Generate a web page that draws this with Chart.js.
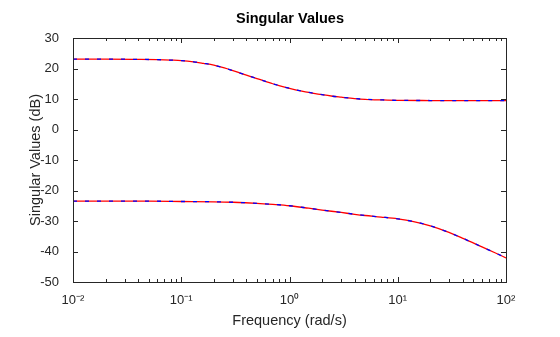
<!DOCTYPE html>
<html>
<head>
<meta charset="utf-8">
<script src="https://cdn.jsdelivr.net/npm/chart.js@4.4.1/dist/chart.umd.min.js"></script>
<style>
    html, body { margin: 0; padding: 0; background: #fff; }
    #wrap { width: 560px; height: 337px; }
</style>
</head>
<body>
<div id="wrap"><canvas id="sigma"></canvas></div>
<script>
// valeurs (rad/s, dB)
const freqUpper = [0.01, 0.02, 0.04, 0.06, 0.08, 0.1, 0.13, 0.16, 0.2, 0.25, 0.3, 0.35, 0.4, 0.5, 0.6, 0.7, 0.8, 1, 1.3, 1.6, 2, 2.5, 3, 4, 5, 7, 10, 20, 50, 100];
const svUpper = [23.1, 23.1, 23.0, 22.9, 22.75, 22.6, 22.2, 21.7, 21.1, 20.2, 19.3, 18.5, 17.8, 16.7, 15.8, 15.0, 14.4, 13.5, 12.6, 12.0, 11.4, 10.9, 10.6, 10.15, 9.9, 9.7, 9.55, 9.5, 9.45, 9.45];

const freqLower = [0.01, 0.05, 0.1, 0.2, 0.3, 0.5, 0.7, 1, 1.5, 2, 3, 4, 5, 7, 10, 14, 20, 28, 40, 60, 80, 100];
const svLower = [-23.5, -23.5, -23.6, -23.7, -23.85, -24.2, -24.55, -25.0, -25.8, -26.4, -27.2, -27.8, -28.2, -28.7, -29.3, -30.2, -31.6, -33.4, -35.7, -38.5, -40.5, -42.1];

const xTickValues = [
    0.01, 0.02, 0.03, 0.04, 0.05, 0.06, 0.07, 0.08, 0.09,
    0.1, 0.2, 0.3, 0.4, 0.5, 0.6, 0.7, 0.8, 0.9,
    1, 2, 3, 4, 5, 6, 7, 8, 9,
    10, 20, 30, 40, 50, 60, 70, 80, 90,
    100,
];
const yTickValues = [-50, -40, -30, -20, -10, 0, 10, 20, 30];

const axisColor = '#262626';
const sup = { '-': '\u207B', '0': '\u2070', '1': '\u00B9', '2': '\u00B2', '3': '\u00B3' };

function isDecade(v) {
    const l = Math.log10(v);
    return Math.abs(l - Math.round(l)) < 1e-6;
}

function decadeLabel(v) {
    const e = String(Math.round(Math.log10(v)));
    return '10' + e.split('').map(function (c) { return sup[c]; }).join('');
}

function pts(xs, ys) {
    return xs.map(function (x, i) { return { x: x, y: ys[i] }; });
}

// cadre complet + graduations vers l'intérieur (style MATLAB)
const boxAxes = {
    id: 'boxAxes',
    afterDraw(chart) {
        const { ctx, chartArea: a, scales } = chart;
        const x = scales.x;
        const y = scales.y;
        ctx.save();
        ctx.strokeStyle = axisColor;
        ctx.lineWidth = 1;
        ctx.beginPath();
        x.ticks.forEach(function (t) {
            const px = Math.round(x.getPixelForValue(t.value)) + 0.5;
            const len = isDecade(t.value) ? 5 : 3;
            ctx.moveTo(px, a.bottom);
            ctx.lineTo(px, a.bottom - len);
            ctx.moveTo(px, a.top);
            ctx.lineTo(px, a.top + len);
        });
        y.ticks.forEach(function (t) {
            const py = Math.round(y.getPixelForValue(t.value)) + 0.5;
            ctx.moveTo(a.left, py);
            ctx.lineTo(a.left + 5, py);
            ctx.moveTo(a.right, py);
            ctx.lineTo(a.right - 5, py);
        });
        ctx.stroke();
        ctx.strokeRect(Math.round(a.left) + 0.5, Math.round(a.top) + 0.5,
            Math.round(a.right - a.left), Math.round(a.bottom - a.top));
        ctx.restore();
    },
};

Chart.defaults.font.family = "'Liberation Sans', Arial, sans-serif";
Chart.defaults.color = axisColor;

const lineCommon = {
    borderWidth: 1.3,
    pointRadius: 0,
    cubicInterpolationMode: 'monotone',
    fill: false,
};

new Chart(document.getElementById('sigma'), {
    type: 'line',
    data: {
        datasets: [
            { ...lineCommon, label: 'sv1 b', data: pts(freqUpper, svUpper), borderColor: '#0000ff', borderDash: [4, 8] },
            { ...lineCommon, label: 'sv2 b', data: pts(freqLower, svLower), borderColor: '#0000ff', borderDash: [4, 8] },
            { ...lineCommon, label: 'sv1', data: pts(freqUpper, svUpper), borderColor: '#ff0000' },
            { ...lineCommon, label: 'sv2', data: pts(freqLower, svLower), borderColor: '#ff0000' },
        ],
    },
    options: {
        responsive: true,
        maintainAspectRatio: false,
        animation: false,
        devicePixelRatio: 1,
        layout: { padding: { left: 20, right: 0, top: 0, bottom: 0 } },
        plugins: {
            legend: { display: false },
            tooltip: { enabled: false },
            title: {
                display: true,
                text: 'Singular Values',
                color: '#000',
                font: { size: 14.5, weight: 'bold' },
                padding: { top: 10, bottom: 10.6 },
            },
        },
        scales: {
            x: {
                type: 'logarithmic',
                min: 0.01,
                max: 100,
                afterBuildTicks(s) {
                    s.ticks = xTickValues.map(function (v) { return { value: v }; });
                },
                afterFit(s) { s.height = 55; },
                grid: { display: false },
                border: { display: false },
                ticks: {
                    autoSkip: false,
                    maxRotation: 0,
                    padding: 3,
                    font: { size: 13 },
                    callback(v) { return isDecade(v) ? decadeLabel(v) : ''; },
                },
                title: {
                    display: true,
                    text: 'Frequency (rad/s)',
                    font: { size: 14.5 },
                    padding: { top: 0, bottom: 7 },
                },
            },
            y: {
                type: 'linear',
                min: -50,
                max: 30,
                afterBuildTicks(s) {
                    s.ticks = yTickValues.map(function (v) { return { value: v }; });
                },
                afterFit(s) { s.width = 53; },
                grid: { display: false },
                border: { display: false },
                ticks: { padding: 6, font: { size: 13 } },
                title: {
                    display: true,
                    text: 'Singular Values (dB)',
                    font: { size: 14.5 },
                    padding: { top: 7, bottom: 0 },
                },
            },
            y2: {
                type: 'linear',
                position: 'right',
                min: -50,
                max: 30,
                afterFit(s) { s.width = 54; },
                grid: { display: false },
                border: { display: false },
                ticks: { display: false },
            },
        },
    },
    plugins: [boxAxes],
});
</script>
</body>
</html>
